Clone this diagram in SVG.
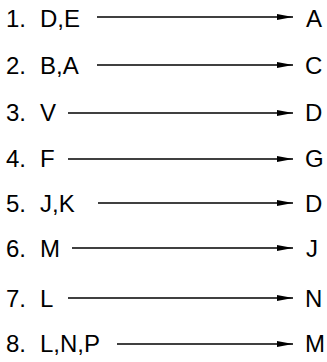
<svg xmlns="http://www.w3.org/2000/svg" width="327" height="362" viewBox="0 0 327 362">
<style>
text{font-family:"Liberation Sans",Arial,sans-serif;font-size:24px;fill:#000}
.c line{stroke:#000;stroke-width:1.5}
</style>
<defs>
<marker id="ah" markerWidth="16" markerHeight="6" refX="16" refY="3" orient="auto" markerUnits="userSpaceOnUse">
<path d="M0,0 L16,3 L0,6 Z" fill="#000"/>
</marker>
</defs>
<rect width="327" height="362" fill="#fff"/>
<g id="row1"><text x="6" y="27">1.</text><text x="40" y="27">D,E</text><text x="306" y="27">A</text></g>
<g id="row2"><text x="6" y="74">2.</text><text x="40" y="74">B,A</text><text x="305" y="74">C</text></g>
<g id="row3"><text x="6" y="121">3.</text><text x="40" y="121">V</text><text x="305" y="121">D</text></g>
<g id="row4"><text x="6" y="167">4.</text><text x="40" y="167">F</text><text x="305" y="167">G</text></g>
<g id="row5"><text x="6" y="212">5.</text><text x="40" y="212">J,K</text><text x="305" y="212">D</text></g>
<g id="row6"><text x="6" y="257">6.</text><text x="40" y="257">M</text><text x="306" y="257">J</text></g>
<g id="row7"><text x="6" y="307">7.</text><text x="40" y="307">L</text><text x="305" y="307">N</text></g>
<g id="row8"><text x="6" y="352">8.</text><text x="40" y="352">L,N,P</text><text x="305" y="352">M</text></g>
<g class="c" id="connectors">
<line x1="97" y1="17" x2="293" y2="17" marker-end="url(#ah)"/>
<line x1="97" y1="65" x2="293" y2="65" marker-end="url(#ah)"/>
<line x1="68" y1="113" x2="293" y2="113" marker-end="url(#ah)"/>
<line x1="68" y1="159" x2="293" y2="159" marker-end="url(#ah)"/>
<line x1="98" y1="203" x2="293" y2="203" marker-end="url(#ah)"/>
<line x1="72" y1="248" x2="293" y2="248" marker-end="url(#ah)"/>
<line x1="68" y1="298" x2="293" y2="298" marker-end="url(#ah)"/>
<line x1="117" y1="344" x2="293" y2="344" marker-end="url(#ah)"/>
</g>
</svg>
